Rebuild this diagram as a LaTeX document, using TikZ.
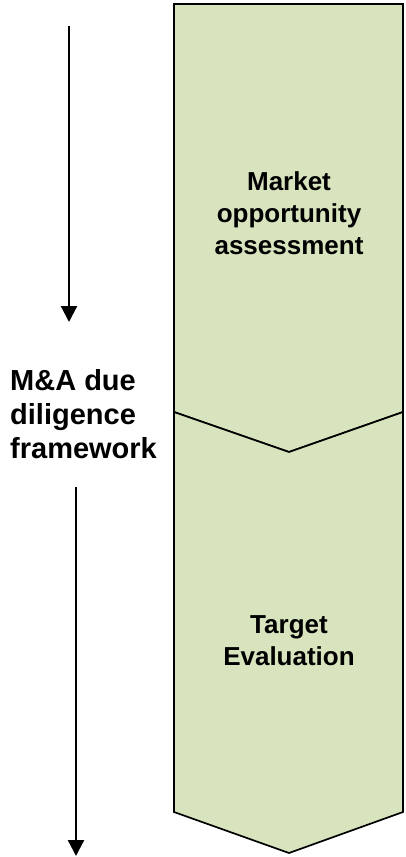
\documentclass[tikz,border=0pt]{standalone}
\usepackage{fontspec}
\setmainfont{Liberation Sans}
\usetikzlibrary{arrows.meta}
\definecolor{phasefill}{HTML}{D7E4BD}
\tikzset{
  phase/.style={fill=phasefill, draw=black, line width=1.7pt, line join=miter},
  flowarrow/.style={line width=2.2pt, -{Triangle[width=16pt,length=16pt]}},
  phaselabel/.style={font=\fontsize{26}{32}\selectfont\bfseries, align=center, inner sep=0pt, anchor=base},
  sidelabel/.style={font=\fontsize{29}{34}\selectfont\bfseries, align=left, inner sep=0pt, anchor=base west}
}
\begin{document}
\begin{tikzpicture}[x=1pt, y=-1pt]
  \useasboundingbox (0,0) rectangle (405,857);
  % upper phase: pentagon pointing down
  \draw[phase] (174,4) -- (403,4) -- (403,412) -- (289,452) -- (174,412) -- cycle;
  % lower phase: chevron
  \draw[phase] (174,412) -- (289,452) -- (403,412) -- (403,812) -- (289,853) -- (174,812) -- cycle;
  % labels are placed by the baseline of their last line
  \node[phaselabel] (market) at (289,254) {Market\\opportunity\\assessment};
  \node[phaselabel] (target) at (289,665) {Target\\Evaluation};
  \node[sidelabel] (frame) at (10,458) {M\&A due\\diligence\\framework};
  \coordinate (a1s) at (69,26);
  \coordinate (a1e) at (69,322);
  \coordinate (a2s) at (76,487);
  \coordinate (a2e) at (76,856);
  \draw[flowarrow] (a1s) -- (a1e);
  \draw[flowarrow] (a2s) -- (a2e);
\end{tikzpicture}
\end{document}
